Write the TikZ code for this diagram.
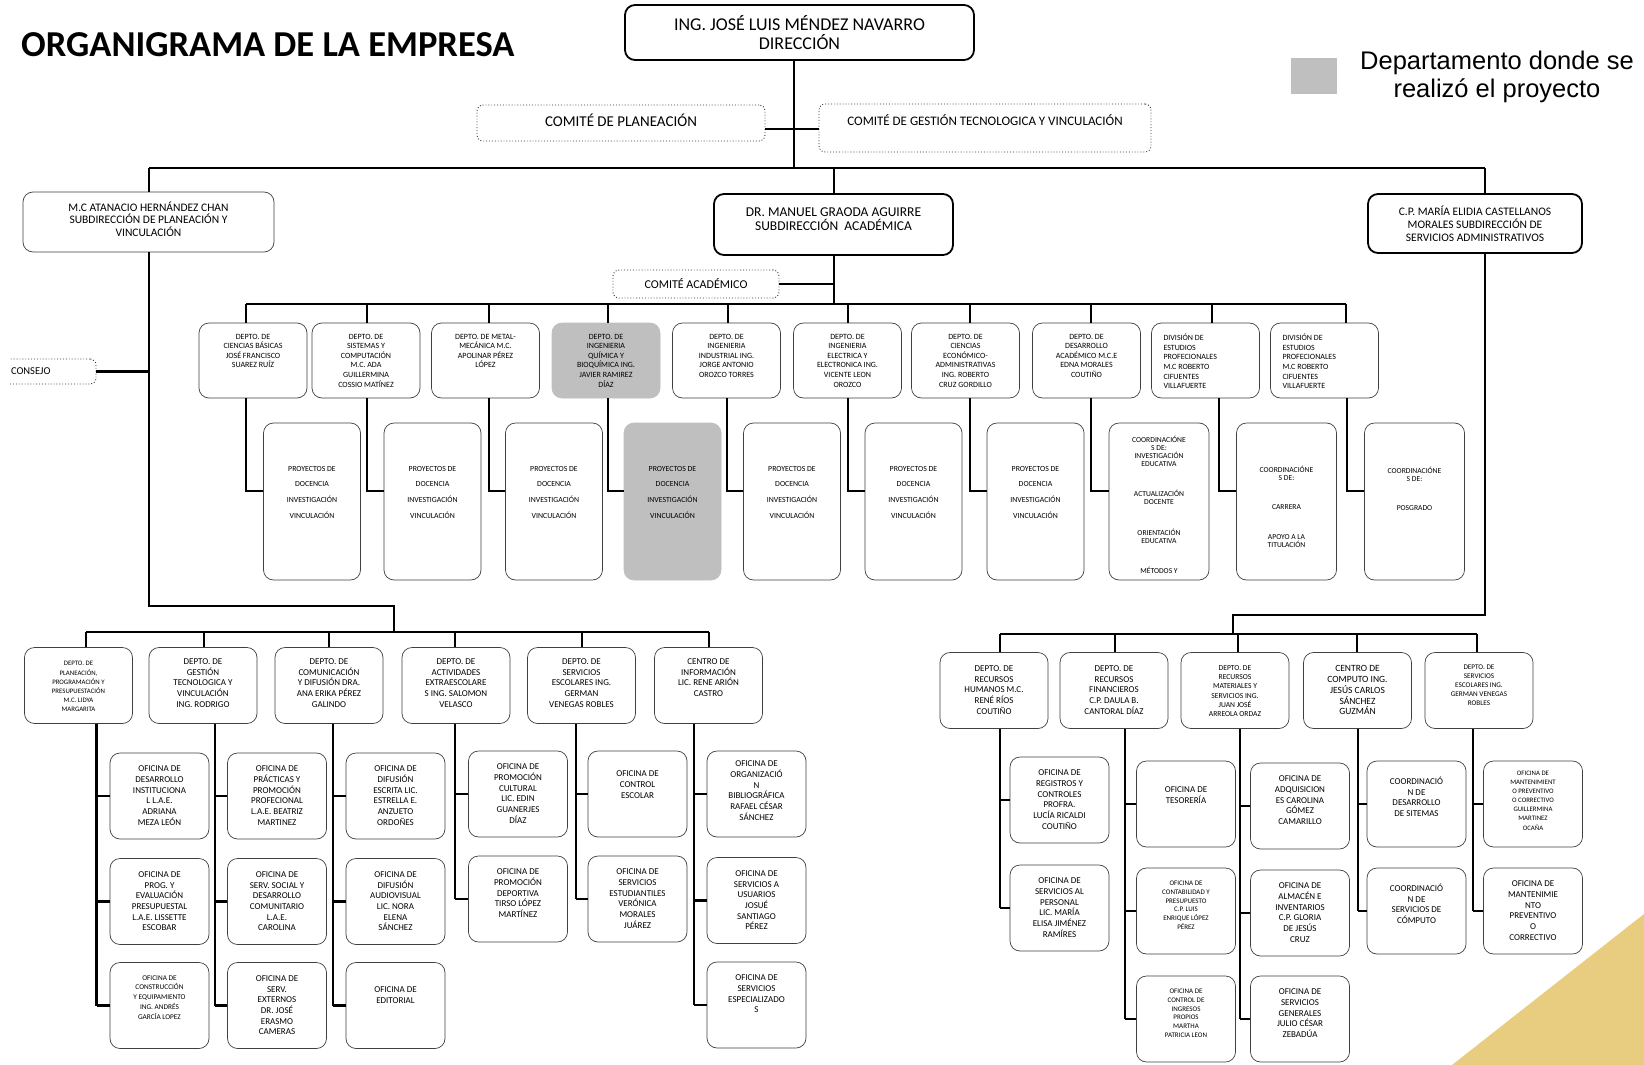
\documentclass[tikz,border=0pt]{standalone}
\usepackage{fontspec}
\setmainfont{Carlito}
\newfontfamily\arialf{Liberation Sans}
\newcommand{\fs}[2]{\fontsize{#1}{#2}\selectfont}
\newcommand{\izq}[1]{\makebox[\linewidth][l]{\hspace{11pt}\begin{tabular}[t]{@{}l@{}}#1\end{tabular}}}
\definecolor{oro}{RGB}{232,205,128}
\tikzset{
  rama/.style={line width=2.5pt},
  caja/.style={draw=black!75, line width=0.7pt, rounded corners=10pt, fill=white, inner sep=1pt},
  gruesa/.style={caja, draw=black, line width=1.8pt, align=center},
  comite/.style={draw=black!80, dotted, line width=0.9pt, rounded corners=6pt, fill=white, align=center},
  marcado/.style={fill=black!25, draw=black!25},
  tbox/.style n args={3}{caja, execute at begin node={\begin{minipage}[c][#2][t]{#1}\centering\vspace*{#3}}, execute at end node={\end{minipage}}},
  depto/.style={tbox={106pt}{73pt}{#1}, font=\fs{8}{9.6}},
  depto/.default=10pt,
  proy/.style={tbox={95pt}{155pt}{#1}, font=\fs{7.8}{15.7}},
  proy/.default=42pt,
  jefe/.style={tbox={106pt}{74pt}{#1}, font=\fs{9}{10.8}},
  jefe/.default=10pt,
  ofi/.style={tbox={97pt}{84pt}{#1}, font=\fs{9}{10.7}},
  ofi/.default=12pt,
}
\begin{document}
\begin{tikzpicture}[x=1pt, y=-1pt]
  \useasboundingbox (0,0) rectangle (1644,1065);
  \fill[white] (0,0) rectangle (1644,1065);
  \clip (0,0) rectangle (1644,1065);
  \fill[oro] (1452,1065) -- (1644,1065) -- (1644,914) -- cycle;

  \node[anchor=west, inner sep=0pt, font=\fs{36.5}{40}\bfseries] (titulo) at (21,45) {ORGANIGRAMA DE LA EMPRESA};
  \node[fill=black!25, minimum width=46pt, minimum height=36pt, inner sep=0pt] (muestra) at (1314,76) {};
  \node[align=center, font=\arialf\fs{25.5}{28}] (leyenda) at (1497,77) {Departamento donde se\\realizó el proyecto};

  \node[gruesa, minimum width=349pt, minimum height=55pt, font=\fs{18}{19}] (dir) at (799.5,32.5) {ING. JOSÉ LUIS MÉNDEZ NAVARRO\\DIRECCIÓN};
  \node[comite, minimum width=288pt, minimum height=36pt, font=\fs{15}{16}] (cplan) at (621,123) {COMITÉ DE PLANEACIÓN\\[-10pt]\mbox{}};
  \node[comite, minimum width=332pt, minimum height=48pt, font=\fs{13}{15}] (cgest) at (985,128) {COMITÉ DE GESTIÓN TECNOLOGICA Y VINCULACIÓN\\ \mbox{}};

  \node[caja, align=center, minimum width=251pt, minimum height=60pt, font=\fs{11.5}{12.6}] (subpv) at (148.5,222) {M.C ATANACIO HERNÁNDEZ CHAN\\SUBDIRECCIÓN DE PLANEACIÓN Y\\VINCULACIÓN\\[-6.6pt]\mbox{}};
  \node[gruesa, minimum width=239pt, minimum height=61pt, font=\fs{13.5}{14.7}] (subac) at (833.5,224.5) {DR. MANUEL GRAODA AGUIRRE\\SUBDIRECCIÓN~~ACADÉMICA\\[-4pt]\mbox{}};
  \node[gruesa, minimum width=214pt, minimum height=59pt, font=\fs{11.5}{13}] (subad) at (1475,223.5) {C.P. MARÍA ELIDIA CASTELLANOS\\MORALES SUBDIRECCIÓN DE\\SERVICIOS ADMINISTRATIVOS};
  \node[comite, minimum width=166pt, minimum height=28pt, font=\fs{12}{13}] (cacad) at (696,284) {COMITÉ ACADÉMICO};
  \begin{scope}
    \clip (9,330) rectangle (200,420);
    \node[comite, text width=44pt, inner xsep=41pt, minimum height=25pt, align=left, font=\fs{10.5}{11}] (consejo) at (33,371.5) {CONSEJO};
  \end{scope}

  \node[depto] (d1) at (253,360.5) {DEPTO. DE\\CIENCIAS BÁSICAS\\JOSÉ FRANCISCO\\SUAREZ RUÍZ};
  \node[depto] (d2) at (366,360.5) {DEPTO. DE\\SISTEMAS Y\\COMPUTACIÓN\\M.C. ADA\\GUILLERMINA\\COSSIO MATÍNEZ};
  \node[depto] (d3) at (485.5,360.5) {DEPTO. DE METAL-\\MECÁNICA M.C.\\APOLINAR PÉREZ\\LÓPEZ};
  \node[depto, marcado] (d4) at (606,360.5) {DEPTO. DE\\INGENIERIA\\QUÍMICA Y\\BIOQUÍMICA ING.\\JAVIER RAMIREZ\\DÍAZ};
  \node[depto] (d5) at (726.5,360.5) {DEPTO. DE\\INGENIERIA\\INDUSTRIAL ING.\\JORGE ANTONIO\\OROZCO TORRES};
  \node[depto] (d6) at (847.5,360.5) {DEPTO. DE\\INGENIERIA\\ELECTRICA Y\\ELECTRONICA ING.\\VICENTE LEON\\OROZCO};
  \node[depto] (d7) at (965.5,360.5) {DEPTO. DE\\CIENCIAS\\ECONÓMICO-\\ADMINISTRATIVAS\\ING. ROBERTO\\CRUZ GORDILLO};
  \node[depto] (d8) at (1086.5,360.5) {DEPTO. DE\\DESARROLLO\\ACADÉMICO M.C.E\\EDNA MORALES\\COUTIÑO};
  \node[depto] (d9) at (1205.5,360.5) {\izq{DIVISIÓN DE\\ESTUDIOS\\PROFECIONALES\\M.C ROBERTO\\CIFUENTES\\VILLAFUERTE}};
  \node[depto] (d10) at (1324.5,360.5) {\izq{DIVISIÓN DE\\ESTUDIOS\\PROFECIONALES\\M.C ROBERTO\\CIFUENTES\\VILLAFUERTE}};

  \foreach \i/\x in {1/312,2/432.5,3/554,5/792,6/913.5,7/1035.5}
    \node[proy] (p\i) at (\x,501.5) {PROYECTOS DE\\DOCENCIA\\INVESTIGACIÓN\\VINCULACIÓN};
  \node[proy, marcado] (p4) at (672.5,501.5) {PROYECTOS DE\\DOCENCIA\\INVESTIGACIÓN\\VINCULACIÓN};
  \node[tbox={98pt}{155pt}{12pt}, font=\fs{7.6}{8}] (p8) at (1159,501.5) {COORDINACIÓNE\\S DE:\\INVESTIGACIÓN\\EDUCATIVA\\[22pt]ACTUALIZACIÓN\\DOCENTE\\[23pt]ORIENTACIÓN\\EDUCATIVA\\[22pt]MÉTODOS Y};
  \node[tbox={98pt}{155pt}{42pt}, font=\fs{7.6}{8}] (p9) at (1286.5,501.5) {COORDINACIÓNE\\S DE:\\[21pt]CARRERA\\[22pt]APOYO A LA\\TITULACIÓN};
  \node[tbox={98pt}{155pt}{43pt}, font=\fs{7.6}{8}] (p10) at (1414.5,501.5) {COORDINACIÓNE\\S DE:\\[21pt]POSGRADO};

  \node[jefe=13pt, font=\fs{6.8}{9.2}] (a1) at (78.5,685.5) {DEPTO. DE\\PLANEACIÓN,\\PROGRAMACIÓN Y\\PRESUPUESTACIÓN\\M.C. LIDYA\\MARGARITA};
  \node[jefe] (a2) at (203,685.5) {DEPTO. DE\\GESTIÓN\\TECNOLOGICA Y\\VINCULACIÓN\\ING. RODRIGO};
  \node[jefe] (a3) at (329,685.5) {DEPTO. DE\\COMUNICACIÓN\\Y DIFUSIÓN DRA.\\ANA ERIKA PÉREZ\\GALINDO};
  \node[jefe] (a4) at (456,685.5) {DEPTO. DE\\ACTIVIDADES\\EXTRAESCOLARE\\S ING. SALOMON\\VELASCO};
  \node[jefe] (a5) at (581.5,685.5) {DEPTO. DE\\SERVICIOS\\ESCOLARES ING.\\GERMAN\\VENEGAS ROBLES};
  \node[jefe] (a6) at (708.5,685.5) {CENTRO DE\\INFORMACIÓN\\LIC. RENE ARIÓN\\CASTRO};

  \node[ofi] (ofa11) at (159.5,796) {OFICINA DE\\DESARROLLO\\INSTITUCIONA\\L L.A.E.\\ADRIANA\\MEZA LEÓN};
  \node[ofi] (ofa12) at (159.5,901.5) {OFICINA DE\\PROG. Y\\EVALUACIÓN\\PRESUPUESTAL\\L.A.E. LISSETTE\\ESCOBAR};
  \node[ofi, font=\fs{7.3}{9.7}] (ofa13) at (159.5,1005.5) {OFICINA DE\\CONSTRUCCIÓN\\Y EQUIPAMIENTO\\ING. ANDRÉS\\GARCÍA LOPEZ};
  \node[ofi] (ofa21) at (277,796) {OFICINA DE\\PRÁCTICAS Y\\PROMOCIÓN\\PROFECIONAL\\L.A.E. BEATRIZ\\MARTINEZ};
  \node[ofi] (ofa22) at (277,901.5) {OFICINA DE\\SERV. SOCIAL Y\\DESARROLLO\\COMUNITARIO\\L.A.E.\\CAROLINA};
  \node[ofi] (ofa23) at (277,1005.5) {OFICINA DE\\SERV.\\EXTERNOS\\DR. JOSÉ\\ERASMO\\CAMERAS};
  \node[ofi] (ofa31) at (395.5,796) {OFICINA DE\\DIFUSIÓN\\ESCRITA LIC.\\ESTRELLA E.\\ANZUETO\\ORDOÑES};
  \node[ofi] (ofa32) at (395.5,901.5) {OFICINA DE\\DIFUSIÓN\\AUDIOVISUAL\\LIC. NORA\\ELENA\\SÁNCHEZ};
  \node[ofi=23pt] (ofa33) at (395.5,1005.5) {OFICINA DE\\EDITORIAL};
  \node[ofi] (ofa41) at (518,794) {OFICINA DE\\PROMOCIÓN\\CULTURAL\\LIC. EDIN\\GUANERJES\\DÍAZ};
  \node[ofi] (ofa42) at (518,899) {OFICINA DE\\PROMOCIÓN\\DEPORTIVA\\TIRSO LÓPEZ\\MARTÍNEZ};
  \node[ofi=19pt] (ofa51) at (637.5,794) {OFICINA DE\\CONTROL\\ESCOLAR};
  \node[ofi=9pt] (ofa61) at (756.5,794) {OFICINA DE\\ORGANIZACIÓ\\N\\BIBLIOGRÁFICA\\RAFAEL CÉSAR\\SÁNCHEZ};
  \node[ofi] (ofa52) at (637.5,899) {OFICINA DE\\SERVICIOS\\ESTUDIANTILES\\VERÓNICA\\MORALES\\JUÁREZ};
  \node[ofi] (ofa62) at (756.5,900.5) {OFICINA DE\\SERVICIOS A\\USUARIOS\\JOSUÉ\\SANTIAGO\\PÉREZ};
  \node[ofi] (ofa63) at (756.5,1005) {OFICINA DE\\SERVICIOS\\ESPECIALIZADO\\S};

  \node[jefe=12pt] (b1) at (994,690.5) {DEPTO. DE\\RECURSOS\\HUMANOS M.C.\\RENÉ RÍOS\\COUTIÑO};
  \node[jefe=12pt] (b2) at (1114,690.5) {DEPTO. DE\\RECURSOS\\FINANCIEROS\\C.P. DAULA B.\\CANTORAL DÍAZ};
  \node[jefe=12pt, font=\fs{7.6}{9.2}] (b3) at (1235,690.5) {DEPTO. DE\\RECURSOS\\MATERIALES Y\\SERVICIOS ING.\\JUAN JOSÉ\\ARREOLA ORDAZ};
  \node[jefe=12pt, font=\fs{9.5}{10.8}] (b4) at (1357.5,690.5) {CENTRO DE\\COMPUTO ING.\\JESÚS CARLOS\\SÁNCHEZ\\GUZMÁN};
  \node[jefe=11pt, font=\fs{7.2}{9.2}] (b5) at (1479,690.5) {DEPTO. DE\\SERVICIOS\\ESCOLARES ING.\\GERMAN VENEGAS\\ROBLES};

  \node[ofi] (ofb11) at (1059.5,800) {OFICINA DE\\REGISTROS Y\\CONTROLES\\PROFRA.\\LUCÍA RICALDI\\COUTIÑO};
  \node[ofi] (ofb12) at (1059.5,908) {OFICINA DE\\SERVICIOS AL\\PERSONAL\\LIC. MARÍA\\ELISA JIMÉNEZ\\RAMÍRES};
  \node[ofi=25pt] (ofb21) at (1186,804) {OFICINA DE\\TESORERÍA};
  \node[ofi, font=\fs{7}{8.8}] (ofb22) at (1186,911) {OFICINA DE\\CONTABILIDAD Y\\PRESUPUESTO\\C.P. LUIS\\ENRIQUE LÓPEZ\\PÉREZ};
  \node[ofi, font=\fs{7}{8.8}] (ofb23) at (1186,1019) {OFICINA DE\\CONTROL DE\\INGRESOS\\PROPIOS\\MARTHA\\PATRICIA LEON};
  \node[ofi] (ofb31) at (1300,806) {OFICINA DE\\ADQUISICION\\ES CAROLINA\\GÓMEZ\\CAMARILLO};
  \node[ofi] (ofb32) at (1300,913) {OFICINA DE\\ALMACÉN E\\INVENTARIOS\\C.P. GLORIA\\DE JESÚS\\CRUZ};
  \node[ofi] (ofb33) at (1300,1019) {OFICINA DE\\SERVICIOS\\GENERALES\\JULIO CÉSAR\\ZEBADÚA};
  \node[ofi=15pt] (ofb41) at (1416.5,804) {COORDINACIÓ\\N DE\\DESARROLLO\\DE SITEMAS};
  \node[ofi=15pt] (ofb42) at (1416.5,911) {COORDINACIÓ\\N DE\\SERVICIOS DE\\CÓMPUTO};
  \node[ofi=9pt, font=\fs{6.8}{9.1}] (ofb51) at (1533,804) {OFICINA DE\\MANTENIMIENT\\O PREVENTIVO\\O CORRECTIVO\\GUILLERMINA\\MARTINEZ\\OCAÑA};
  \node[ofi] (ofb52) at (1533,911) {OFICINA DE\\MANTENIMIE\\NTO\\PREVENTIVO\\O\\CORRECTIVO};

  \coordinate (nudo) at (794,168);
  \coordinate (hl) at (149,168);
  \coordinate (hm) at (834,168);
  \coordinate (hr) at (1485,168);
  \coordinate (ncom) at (794,129);
  \coordinate (nac) at (834,304);
  \draw[rama] (dir.south -| nudo) -- (nudo);
  \draw[rama] (cplan.east |- ncom) -- (cgest.west |- ncom);
  \draw[rama] (hl) -- (hr);
  \draw[rama] (hl) -- (subpv.north -| hl);
  \draw[rama] (hm) -- (subac.north -| hm);
  \draw[rama] (hr) -- (subad.north -| hr);
  \draw[rama] (subac.south -| nac) -- (nac);
  \draw[rama] (cacad.east) -- (cacad.east -| nac);

  \foreach \i/\xa/\xb in {1/246/246,2/367/367,3/489/489,4/608/608,5/728/727,6/848/848,7/970/970,8/1091/1091,9/1212/1219,10/1346/1347}{
    \coordinate (t\i) at (\xa,304);
    \coordinate (u\i) at (\xb,491);
    \draw[rama] (t\i) -- (d\i.north -| t\i);
    \draw[rama] (d\i.south -| u\i) -- (u\i) -- (u\i -| p\i.west);
  }
  \draw[rama] (t1) -- (t10);

  \coordinate (qa) at (149,606);
  \coordinate (qb) at (394,606);
  \coordinate (qc) at (394,632);
  \draw[rama] (subpv.south -| qa) -- (qa) -- (qb) -- (qc);
  \draw[rama] (consejo.east) -- (consejo.east -| qa);
  \foreach \i/\x in {1/86,2/204,3/329,4/455,5/582,6/709}{
    \coordinate (s\i) at (\x,632);
    \draw[rama] (s\i) -- (a\i.north -| s\i);
  }
  \draw[rama] (s1) -- (s6);
  \foreach \c/\x/\m in {1/96.5/3,2/215/3,3/333/3,4/455/2,5/576/2,6/694/3}{
    \coordinate (v\c) at (\x,0);
    \draw[rama] (a\c.south -| v\c) -- (v\c |- ofa\c\m.west);
    \foreach \r in {1,...,\m}
      \draw[rama] (v\c |- ofa\c\r.west) -- (ofa\c\r.west);
  }

  \coordinate (ra) at (1485,615);
  \coordinate (rb) at (1233,615);
  \coordinate (rc) at (1233,634);
  \draw[rama] (subad.south -| ra) -- (ra) -- (rb) -- (rc);
  \foreach \i/\x in {1/1000,2/1115,3/1238,4/1357,5/1477}{
    \coordinate (w\i) at (\x,634);
    \draw[rama] (w\i) -- (b\i.north -| w\i);
  }
  \draw[rama] (w1) -- (w5);
  \foreach \c/\x/\m in {1/1000/2,2/1125/3,3/1240/3,4/1358/2,5/1473/2}{
    \coordinate (z\c) at (\x,0);
    \draw[rama] (b\c.south -| z\c) -- (z\c |- ofb\c\m.west);
    \foreach \r in {1,...,\m}
      \draw[rama] (z\c |- ofb\c\r.west) -- (ofb\c\r.west);
  }
\end{tikzpicture}
\end{document}
